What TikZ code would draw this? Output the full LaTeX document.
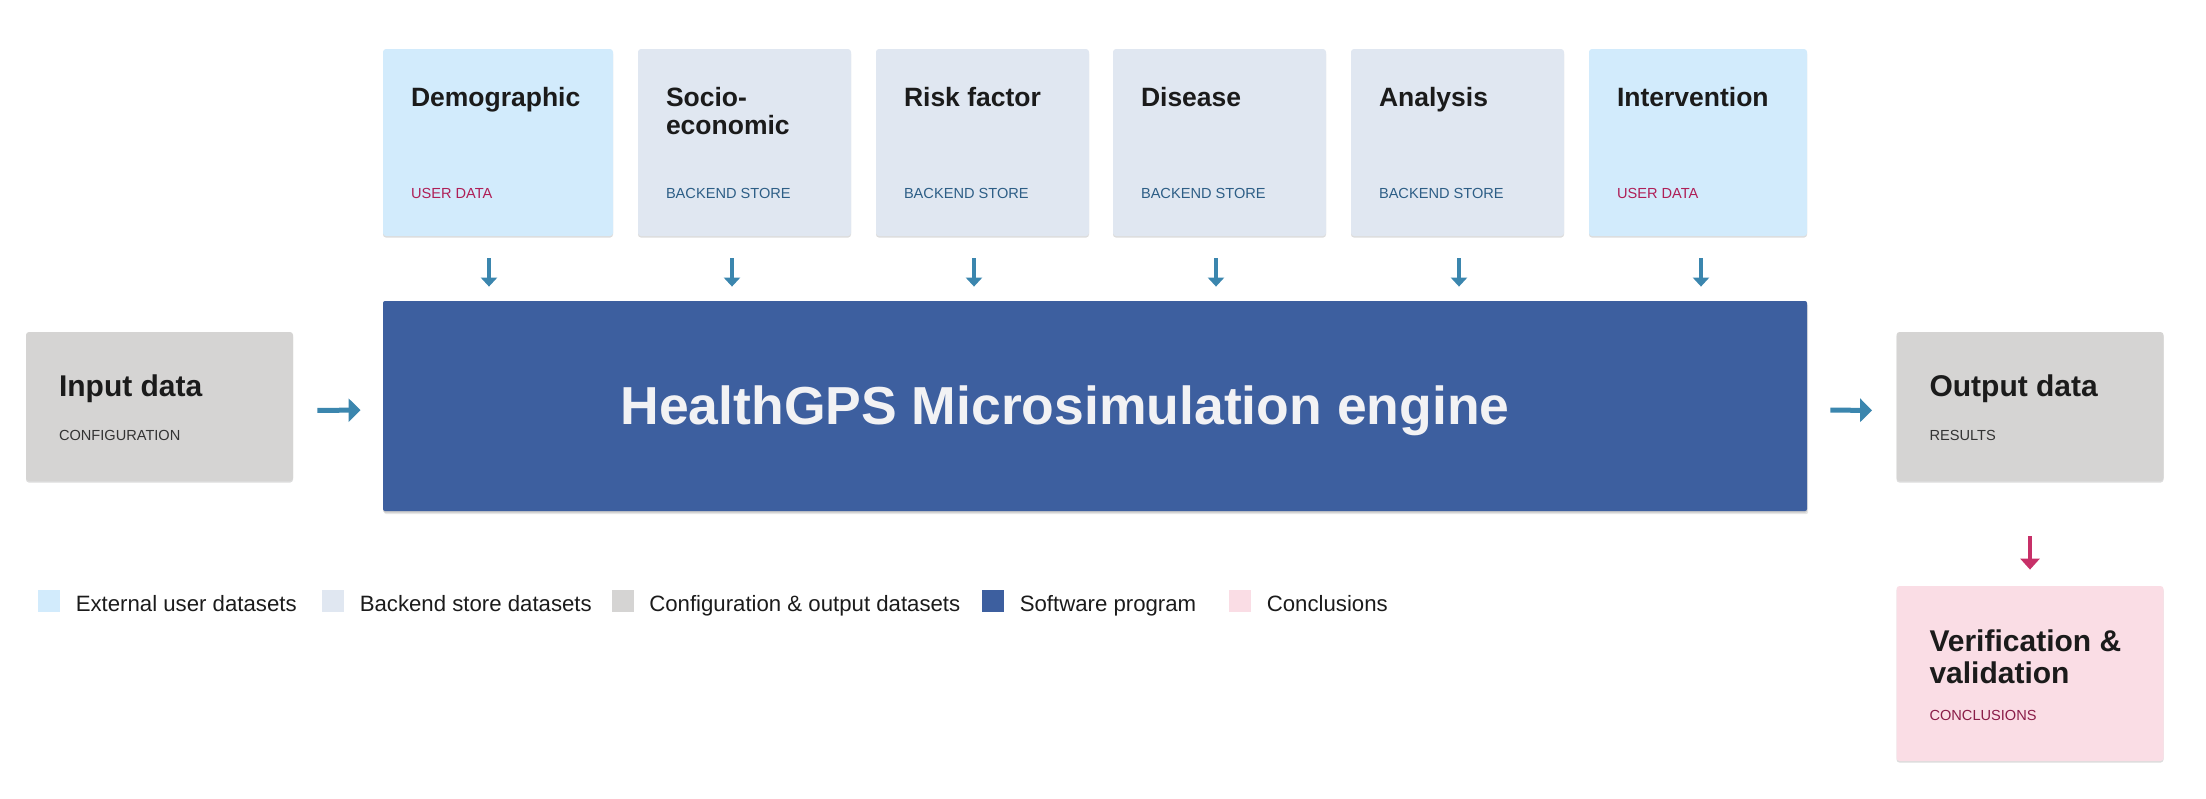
\documentclass[tikz,border=0pt]{standalone}
\usepackage{fontspec}
\setmainfont{Liberation Sans}
\usetikzlibrary{arrows.meta}
\usetikzlibrary{shadows}
\definecolor{userblue}{HTML}{D2EBFC}
\definecolor{backblue}{HTML}{E0E7F1}
\definecolor{configgrey}{HTML}{D5D4D3}
\definecolor{enginebg}{HTML}{3D5F9F}
\definecolor{pinkbg}{HTML}{FADDE5}
\definecolor{arrowblue}{HTML}{3B86AE}
\definecolor{pinkarrow}{HTML}{C73068}
\definecolor{usertxt}{HTML}{AF1F57}
\definecolor{backtxt}{HTML}{2D5E86}
\definecolor{configtxt}{HTML}{333333}
\definecolor{concltxt}{HTML}{8A1C48}
\definecolor{headtxt}{HTML}{1B1B1B}
\definecolor{enginetxt}{HTML}{F2F2F4}
\tikzset{
	every node/.style = {font=\fontsize{11.1}{13}\selectfont},
	card/.style = {rounded corners=1.5pt, inner sep=0pt, minimum height=93.5pt,
		drop shadow={shadow xshift=0pt, shadow yshift=-0.8pt, opacity=0.3, fill=black!45}},
	head/.style = {anchor=base west, inner sep=0pt, align=left, text=headtxt,
		font=\fontsize{13.25}{14}\selectfont\bfseries},
	bighead/.style = {head, font=\fontsize{15}{15.75}\selectfont\bfseries},
	tag/.style = {anchor=base west, inner sep=0pt, font=\fontsize{7.3}{8}\selectfont},
	feed/.style = {-{Triangle[length=4.5pt,width=8pt]}, line width=1.75pt, draw=arrowblue},
	flow/.style = {-{Triangle[length=6pt,width=11.5pt]}, line width=2.5pt, draw=arrowblue},
	swatch/.style = {minimum size=11pt, inner sep=0pt},
	legtext/.style = {anchor=base west, inner sep=0pt, text=headtxt}
}

\begin{document}
\begin{tikzpicture}[x=0.5pt, y=-0.5pt]
	\useasboundingbox (0,0) rectangle (2206,798);
	% datasets
	\foreach \n/\x/\w/\col/\ty/\txt/\tagtxt/\tagcol in {
		demo/498/115/userblue/29/Demographic/USER DATA/usertxt,
		socio/744.5/106.5/backblue/43/Socio-\\economic/BACKEND STORE/backtxt,
		risk/982.5/106.5/backblue/29/Risk factor/BACKEND STORE/backtxt,
		disease/1219.5/106.5/backblue/29/Disease/BACKEND STORE/backtxt,
		analysis/1457.5/106.5/backblue/29/Analysis/BACKEND STORE/backtxt,
		interv/1698/109/userblue/29/Intervention/USER DATA/usertxt}
	{
		\node[card, fill=\col, minimum width=\w pt] (\n) at (\x,142.5) {};
		\node[head] (\n-t) at ([xshift=14pt,yshift=-\ty pt]\n.north west) {\txt};
		\node[tag, text=\tagcol] (\n-k) at ([xshift=14pt,yshift=-75pt]\n.north west) {\tagtxt};
	}
	
	% engine
	\node[card, fill=enginebg, minimum width=712pt, minimum height=105pt, rounded corners=1pt,
		drop shadow={shadow xshift=0.6pt, shadow yshift=-1.5pt, opacity=0.2, fill=black!50}] (engine) at (1095,406) {};
	\node[anchor=base, inner sep=0pt, text=enginetxt, font=\fontsize{26.75}{30}\selectfont\bfseries]
		(engine-t) at ([xshift=-15pt,yshift=-9pt]engine.center) {HealthGPS Microsimulation engine};
	
	% input, output, conclusions
	\node[card, fill=configgrey, minimum width=133.5pt, minimum height=74.5pt] (input) at (159.5,406.5) {};
	\node[bighead] (input-t) at ([xshift=16.5pt,yshift=-32.5pt]input.north west) {Input data};
	\node[tag, text=configtxt] (input-k) at ([xshift=16.5pt,yshift=-54.5pt]input.north west) {CONFIGURATION};
	
	\node[card, fill=configgrey, minimum width=133.5pt, minimum height=74.5pt] (output) at (2030,406.5) {};
	\node[bighead] (output-t) at ([xshift=16.5pt,yshift=-32.5pt]output.north west) {Output data};
	\node[tag, text=configtxt] (output-k) at ([xshift=16.5pt,yshift=-54.5pt]output.north west) {RESULTS};
	
	\node[card, fill=pinkbg, minimum width=133.5pt, minimum height=87.5pt] (verify) at (2030,673.5) {};
	\node[bighead] (verify-t) at ([xshift=16.5pt,yshift=-48.75pt]verify.north west) {Verification \&\\validation};
	\node[tag, text=concltxt] (verify-k) at ([xshift=16.5pt,yshift=-67.5pt]verify.north west) {CONCLUSIONS};
	
	% arrows
	\foreach \n/\dx in {demo/-4.5, socio/-6.25, risk/-4.25, disease/-1.75, analysis/0.75, interv/1.5}
		\draw[feed, shorten <=11pt, shorten >=7pt] ([xshift=\dx pt]\n.south) -- ([xshift=\dx pt]\n.south |- engine.north);
	\draw[flow, shorten <=12pt, shorten >=11pt] ([yshift=-2pt]input.east) -- ([yshift=-2pt]engine.west);
	\draw[flow, shorten <=11.5pt, shorten >=12pt] ([yshift=-2pt]engine.east) -- ([yshift=-2pt]output.west);
	\draw[-{Triangle[length=5.5pt,width=9.5pt]}, line width=1.75pt, draw=pinkarrow, shorten <=27.5pt, shorten >=8pt]
		(output.south) -- (verify.north);
	
	% legend
	\foreach \x/\col/\txt [count=\i] in {49/userblue/External user datasets, 333/backblue/Backend store datasets,
		622.5/configgrey/Configuration \& output datasets, 993/enginebg/Software program, 1240/pinkbg/Conclusions}
	{
		\node[swatch, fill=\col] (leg\i) at (\x,601) {};
		\node[legtext] (leg\i-t) at ([xshift=7.5pt,yshift=-5pt]leg\i.east) {\txt};
	}
\end{tikzpicture}
\end{document}
